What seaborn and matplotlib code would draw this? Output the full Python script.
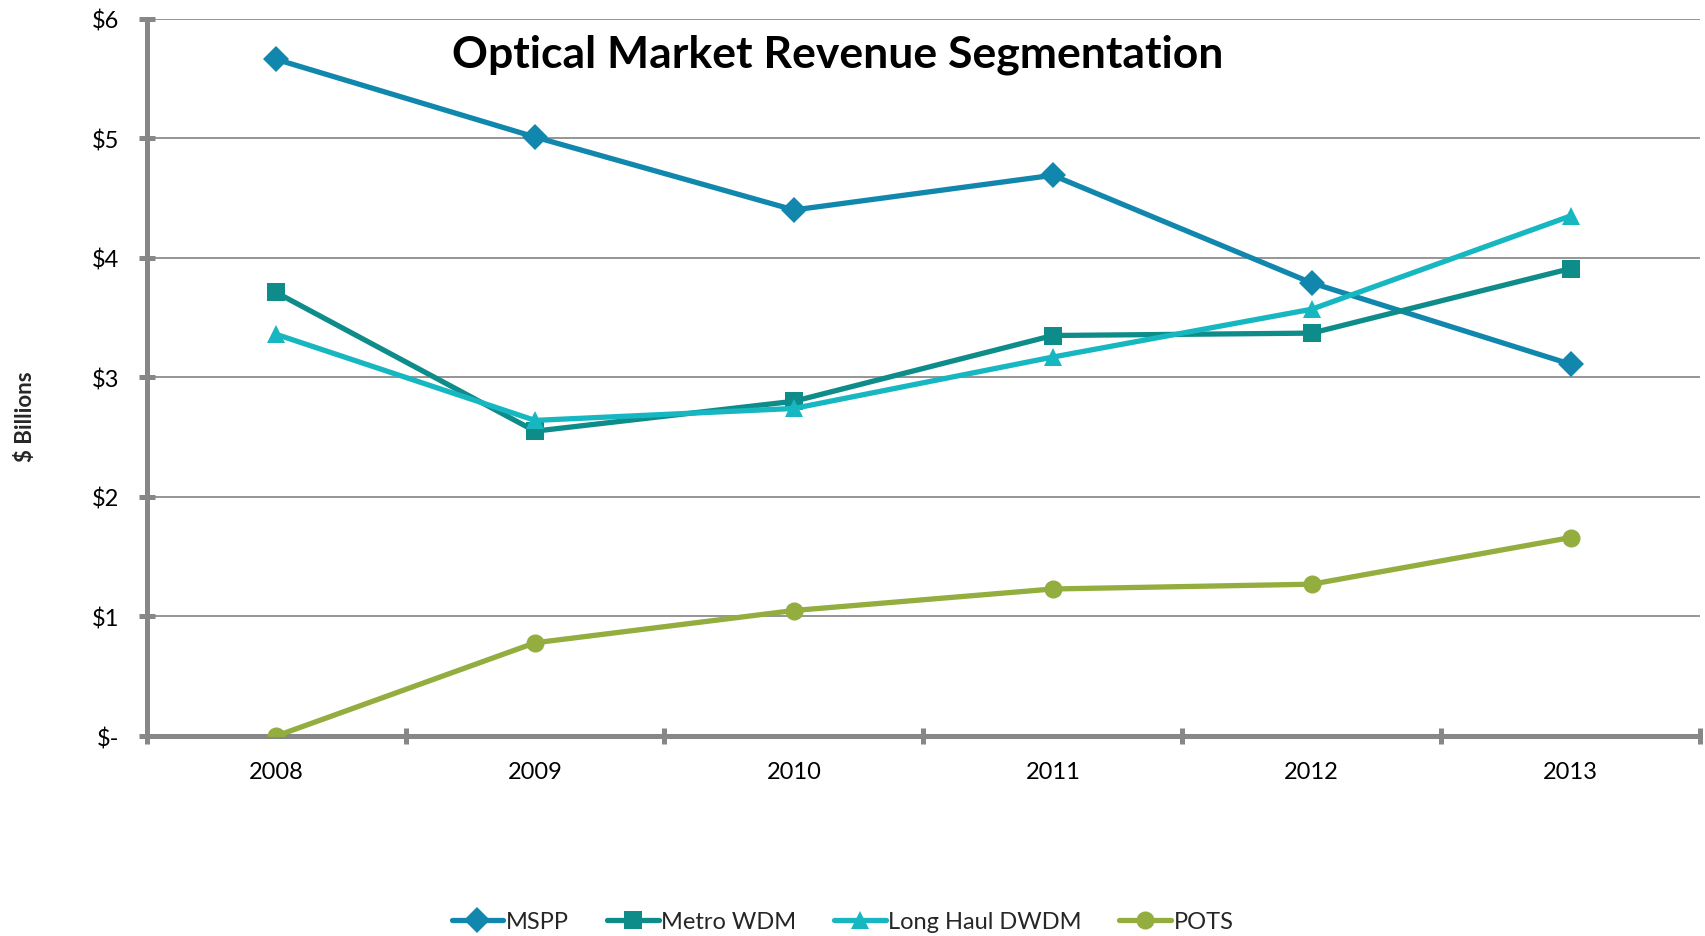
import numpy as np
import pandas as pd
import matplotlib
matplotlib.use('Agg')
import matplotlib.pyplot as plt
import seaborn as sns
from matplotlib.ticker import FixedLocator

years = ['2008', '2009', '2010', '2011', '2012', '2013']
series_names = ['MSPP', 'Metro WDM', 'Long Haul DWDM', 'POTS']
mspp = [5.66, 5.01, 4.40, 4.69, 3.79, 3.11]
metro_wdm = [3.71, 2.55, 2.80, 3.35, 3.37, 3.91]
long_haul_dwdm = [3.36, 2.64, 2.74, 3.17, 3.57, 4.35]
pots = [0.00, 0.78, 1.05, 1.23, 1.27, 1.66]
ytick_labels = ['$-', '$1', '$2', '$3', '$4', '$5', '$6']

colors = ['#1287ae', '#0e8c8a', '#17b7c1', '#93ad3e']
marker_list = ['D', 's', '^', 'o']

df = pd.DataFrame({
    'year': years * 4,
    'idx': list(range(len(years))) * 4,
    'series': [s for s in series_names for _ in years],
    'value': mspp + metro_wdm + long_haul_dwdm + pots,
})

sns.set_theme(style='white')
plt.rcParams['font.family'] = ['Lato', 'DejaVu Sans']

fig = plt.figure(figsize=(17.06, 9.37), dpi=100)
ax = fig.add_axes([0.086, 0.2134, 0.9105, 0.7656])

sns.lineplot(data=df, x='idx', y='value', hue='series', style='series',
             hue_order=series_names, style_order=series_names,
             palette=colors, markers=marker_list, dashes=False,
             linewidth=3.8, markersize=13, markeredgewidth=0, ax=ax)

ax.set_xlim(-0.5, 5.5)
ax.set_ylim(0, 6)

# grid + spines
ax.yaxis.grid(True, color='#8c8c8c', linewidth=1.3)
ax.xaxis.grid(False)
for side in ['top', 'right']:
    ax.spines[side].set_visible(False)
for side in ['left', 'bottom']:
    ax.spines[side].set_color('#878787')
    ax.spines[side].set_linewidth(3.6)
    ax.spines[side].set_zorder(1)

ax.set_yticks(range(7))
ax.set_yticklabels(ytick_labels)
ax.set_xticks(range(len(years)))
ax.set_xticklabels(years)
ax.xaxis.set_minor_locator(FixedLocator(np.arange(-0.5, 6, 1.0)))

ax.tick_params(axis='y', which='major', direction='inout', length=12, width=3.6,
               color='#878787', left=True, labelsize=17, pad=14, labelcolor='black')
ax.tick_params(axis='x', which='major', length=0, labelsize=17, pad=18, labelcolor='black')
ax.tick_params(axis='x', which='minor', direction='inout', length=12, width=3.6,
               color='#878787', bottom=True)

ax.set_xlabel('')
ax.set_ylabel('$ Billions', fontsize=16, fontweight='bold')
ax.yaxis.set_label_coords(-0.071, 0.446)

ax.text(0.445, 0.951, 'Optical Market Revenue Segmentation', transform=ax.transAxes,
        ha='center', va='center', fontsize=32, fontweight='bold', color='black')

handles, labels = ax.get_legend_handles_labels()
ax.legend(handles, labels, loc='center', bbox_to_anchor=(0.448, -0.259), ncol=4,
          frameon=False, fontsize=17, handlelength=2.2, columnspacing=1.6,
          handletextpad=0.1)

fig.savefig('out.png', dpi=100)
